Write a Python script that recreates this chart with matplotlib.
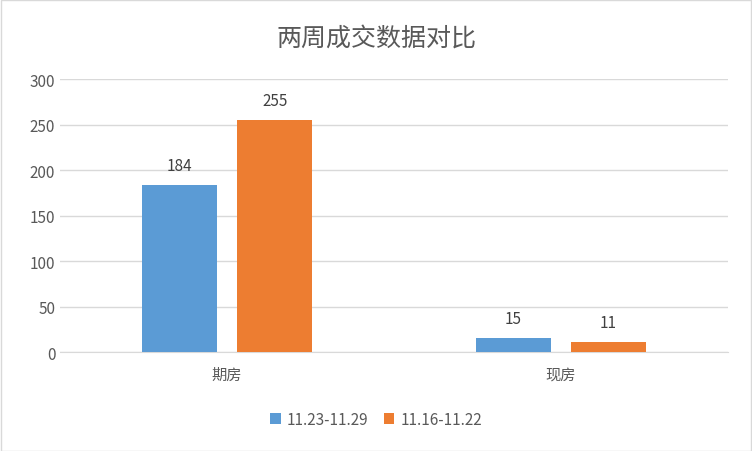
import matplotlib
matplotlib.use('Agg')
import matplotlib.pyplot as plt
import numpy as np

plt.rcParams['font.family'] = ['Noto Sans CJK SC', 'DejaVu Sans']

categories = ['期房', '现房']
series_names = ['11.23-11.29', '11.16-11.22']
s1 = [184, 15]
s2 = [255, 11]
colors = ['#5B9BD5', '#ED7D31']

fig = plt.figure(figsize=(7.52, 4.52), dpi=100)
ax = fig.add_axes([0.08, 0.219, 0.888, 0.604])
x = np.arange(len(categories))
w = 0.225
gap = 0.06
off = (w + gap) / 2
b1 = ax.bar(x - off, s1, w, color=colors[0], label=series_names[0], zorder=3)
b2 = ax.bar(x + off, s2, w, color=colors[1], label=series_names[1], zorder=3)
for bars in (b1, b2):
    for r in bars:
        ax.text(r.get_x() + r.get_width() / 2, r.get_height() + 12, f'{int(r.get_height())}',
                ha='center', va='bottom', fontsize=11, color='#404040')
ax.set_xlim(-0.5, 1.5)
ax.set_ylim(0, 300)
ax.set_yticks(range(0, 301, 50))
ax.set_xticks(x)
ax.set_xticklabels(categories)
ax.tick_params(axis='both', length=0, labelsize=11, colors='#595959')
ax.tick_params(axis='x', pad=10)
ax.grid(axis='y', color='#D9D9D9', linewidth=1, zorder=0)
for s in ['top', 'right', 'left']:
    ax.spines[s].set_visible(False)
ax.spines['bottom'].set_color('#D9D9D9')
fig.text(0.5, 0.915, '两周成交数据对比', ha='center', va='center', fontsize=18, color='#595959')
fig.legend(loc='center', bbox_to_anchor=(0.5, 0.07), ncol=2, frameon=False,
           fontsize=11, handlelength=0.7, handleheight=0.7, labelcolor='#595959', columnspacing=1.0, handletextpad=0.4)
fig.patches.append(matplotlib.patches.Rectangle((0.001, 0.001), 0.998, 0.997, transform=fig.transFigure,
                   fill=False, edgecolor='#D9D9D9', linewidth=1))
fig.savefig('out.png', dpi=100)
